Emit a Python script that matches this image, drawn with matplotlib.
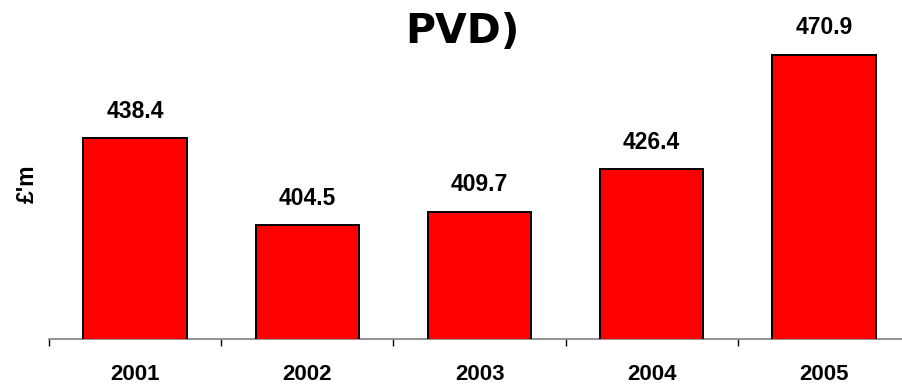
import matplotlib
matplotlib.use("Agg")
import matplotlib.pyplot as plt

# Annual values in £m
years = ["2001", "2002", "2003", "2004", "2005"]
values = [438.4, 404.5, 409.7, 426.4, 470.9]

fig = plt.figure(figsize=(9.03, 3.84), dpi=100)
ax = fig.add_axes([49 / 903, 45 / 384, 861 / 903, 339 / 384])

x = range(len(years))
ax.bar(x, values, width=0.6, color="#ff0000", edgecolor="black", linewidth=1.4, zorder=3)

ax.set_xlim(-0.5, len(years) - 0.5)
ax.set_ylim(360, 492.2)

# value labels above each bar
for i, v in zip(x, values):
    ax.annotate(f"{v:.1f}", xy=(i, v), xytext=(0, 14.5), textcoords="offset points",
                ha="center", va="baseline", fontsize=16.5, fontweight="bold",
                family="Liberation Sans")

# category labels centred, tick marks on the boundaries
ax.set_xticks(list(x))
ax.set_xticklabels(years, fontsize=16, fontweight="bold", family="Liberation Sans")
ax.tick_params(axis="x", which="major", length=0, pad=18)
ax.set_xticks([i - 0.5 for i in range(len(years) + 1)], minor=True)
ax.tick_params(axis="x", which="minor", length=5, width=1, color="black", direction="out")
ax.set_yticks([])

for side in ("left", "top", "right"):
    ax.spines[side].set_visible(False)
ax.spines["bottom"].set_color("#808080")
ax.spines["bottom"].set_linewidth(1.2)

fig.text(27 / 903, 1 - 184 / 384, "£'m", rotation=90, ha="center", va="center",
         fontsize=16.5, fontweight="bold", family="Liberation Sans")

fig.text(462 / 903, 1 - 43 / 384, "PVD)", ha="center", va="baseline",
         fontsize=29.5, fontweight="bold", family="DejaVu Sans")

fig.savefig("out.png", dpi=100)
